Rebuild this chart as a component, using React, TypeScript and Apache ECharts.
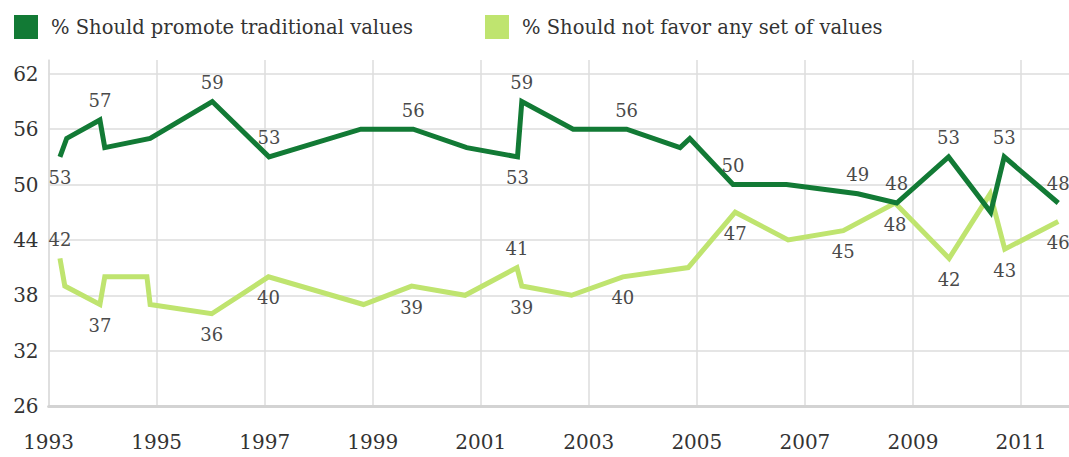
import React, { useEffect, useRef } from "react";
import * as echarts from "echarts";

const BASE_YEAR = 1993;
const xTickYears = [1993, 1995, 1997, 1999, 2001, 2003, 2005, 2007, 2009, 2011];
const yTicks = [26, 32, 38, 44, 50, 56, 62];

const seriesNames = ["% Should promote traditional values", "% Should not favor any set of values"];

// Dark series: % Should promote traditional values
const tradDates = [
  1993.21, 1993.335, 1993.95, 1994.04, 1994.88, 1996.03, 1997.08, 1998.78, 1999.75, 2000.74,
  2001.68, 2001.76, 2002.71, 2003.7, 2004.69, 2004.87, 2005.67, 2006.66, 2007.98, 2008.7,
  2009.66, 2010.44, 2010.69, 2011.69,
];
const tradValues = [53, 55, 57, 54, 55, 59, 53, 56, 56, 54, 53, 59, 56, 56, 54, 55, 50, 50, 49, 48, 53, 47, 53, 48];
// label placement per point: "t" above, "b" below, "" none
const tradLabelPos = ["b", "", "t", "", "", "t", "t", "", "t", "", "b", "t", "", "t", "", "", "t", "", "t", "t", "t", "", "t", "t"];

// Light series: % Should not favor any set of values
const neutralDates = [
  1993.21, 1993.3, 1993.95, 1994.04, 1994.82, 1994.88, 1996.02, 1997.07, 1998.83, 1999.72,
  2000.71, 2001.67, 2001.76, 2002.68, 2003.63, 2004.84, 2005.71, 2006.69, 2007.71, 2008.67,
  2009.67, 2010.43, 2010.7, 2011.69,
];
const neutralValues = [42, 39, 37, 40, 40, 37, 36, 40, 37, 39, 38, 41, 39, 38, 40, 41, 47, 44, 45, 48, 42, 49, 43, 46];
const neutralLabelPos = ["t", "", "b", "", "", "", "b", "b", "", "b", "", "t", "b", "", "b", "", "b", "", "b", "b", "b", "", "b", "b"];
const neutralLabelShift = [0, 0, 0, 0, 0, 0, 0, 0, 0, 0, 0, 0, -14, 0, 18, 0, 0, 0, 10, 0, 0, 0, 0, 0];

const DARK = "#127a35";
const LIGHT = "#bfe46f";
const FONT = "DejaVu Serif";

function buildData(dates: number[], values: number[], pos: string[], shift?: number[]) {
  return dates.map((d, i) => {
    const item: any = { value: [d - BASE_YEAR, values[i]] };
    if (pos[i]) {
      item.label = {
        show: true,
        position: pos[i] === "t" ? "top" : "bottom",
        distance: pos[i] === "t" ? 10 : 12,
        offset: [shift ? shift[i] : 0, 0],
      };
    }
    return item;
  });
}

export default function App() {
  const ref = useRef<HTMLDivElement>(null);
  useEffect(() => {
    if (!ref.current) return;
    const chart = echarts.init(ref.current, null, { renderer: "svg" });
    const xMax = (1069 - 48.6) / 54.02;
    const labelStyle = {
      show: false,
      color: "#4a4a4a",
      fontFamily: FONT,
      fontSize: 18,
      formatter: (p: any) => String(p.value[1]),
    };
    const legendText = { fontFamily: FONT, fontSize: 19.5, color: "#333", padding: [0, 0, 0, 8] };
    chart.setOption({
      animation: false,
      backgroundColor: "#ffffff",
      legend: [
        {
          data: [seriesNames[0]],
          left: 9,
          top: 10,
          icon: "rect",
          itemWidth: 24,
          itemHeight: 24,
          textStyle: legendText,
        },
        {
          data: [seriesNames[1]],
          left: 480,
          top: 10,
          icon: "rect",
          itemWidth: 24,
          itemHeight: 24,
          textStyle: legendText,
        },
      ],
      grid: { left: 48.6, right: 0, top: 60, bottom: 51, containLabel: false },
      xAxis: {
        type: "value",
        min: 0,
        max: xMax,
        interval: 2,
        axisLine: { show: true, lineStyle: { color: "#d3d3d3", width: 3 } },
        axisTick: { show: false },
        splitLine: { show: true, showMaxLine: false, lineStyle: { color: "#dcdcdc", width: 1.5 } },
        axisLabel: {
          showMaxLabel: false,
          margin: 26,
          color: "#333",
          fontFamily: FONT,
          fontSize: 20,
          formatter: (v: number) => {
            const y = BASE_YEAR + v;
            return xTickYears.includes(Math.round(y)) && Math.abs(y - Math.round(y)) < 1e-6 ? String(Math.round(y)) : "";
          },
        },
      },
      yAxis: {
        type: "value",
        min: 26,
        max: 63.5,
        interval: 6,
        axisLine: { show: true, lineStyle: { color: "#dcdcdc", width: 1.5 } },
        axisTick: { show: false },
        splitLine: { show: true, showMinLine: false, showMaxLine: false, lineStyle: { color: "#dcdcdc", width: 1.5 } },
        axisLabel: {
          showMaxLabel: false,
          margin: 10,
          color: "#333",
          fontFamily: FONT,
          fontSize: 20,
          formatter: (v: number) => (yTicks.includes(v) ? String(v) : ""),
        },
      },
      series: [
        {
          name: seriesNames[0],
          type: "line",
          data: buildData(tradDates, tradValues, tradLabelPos),
          symbol: "circle",
          symbolSize: 0.1,
          showSymbol: true,
          showAllSymbol: true,
          lineStyle: { color: DARK, width: 5, join: "miter" },
          itemStyle: { color: DARK },
          label: labelStyle,
          labelLayout: { hideOverlap: false },
          z: 3,
        },
        {
          name: seriesNames[1],
          type: "line",
          data: buildData(neutralDates, neutralValues, neutralLabelPos, neutralLabelShift),
          symbol: "circle",
          symbolSize: 0.1,
          showSymbol: true,
          showAllSymbol: true,
          lineStyle: { color: LIGHT, width: 5, join: "miter" },
          itemStyle: { color: LIGHT },
          label: labelStyle,
          labelLayout: { hideOverlap: false },
          z: 2,
        },
      ],
    });
    return () => chart.dispose();
  }, []);
  return (
    <div
      ref={ref}
      style={{ position: "fixed", left: 0, top: 0, width: 1069, height: 457, background: "#fff" }}
    />
  );
}
